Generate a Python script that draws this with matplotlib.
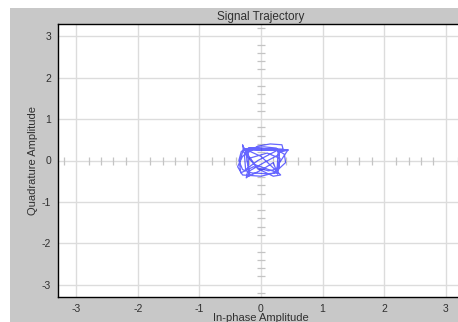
import numpy as np
import matplotlib
matplotlib.use("Agg")
import matplotlib.pyplot as plt
from matplotlib.patches import Rectangle

plt.rcParams['font.family'] = ['Liberation Sans', 'DejaVu Sans']
plt.rcParams['axes.unicode_minus'] = False

# In-phase / quadrature samples of the trajectory
in_phase = [-0.25, 0.44, 0.28, 0.27, 0.26, 0.10, -0.15, -0.30, -0.36, -0.32,
            -0.20, 0.05, 0.25, 0.30, 0.05, -0.22, -0.24, -0.18, -0.23, -0.24,
            0.00, 0.25, 0.32, 0.20, -0.05, -0.28, -0.30, -0.27, 0.10, 0.36,
            0.34, 0.15, -0.05, -0.30, -0.38, -0.30, 0.00, 0.22, 0.40, 0.38,
            0.27, -0.05, -0.25, -0.27, -0.20, 0.44, 0.28, 0.24, -0.10, -0.26,
            -0.28, 0.42, 0.30, 0.29, 0.12, -0.12, -0.33, -0.35, -0.28, -0.21,
            -0.20, 0.02, 0.20, 0.27, 0.31, 0.10, -0.20, -0.26, 0.40]
quadrature = [0.27, 0.25, 0.25, 0.00, -0.30, -0.32, -0.30, -0.22, 0.00, 0.22,
              0.30, 0.33, 0.30, 0.15, -0.05, -0.28, -0.42, -0.35, 0.00, 0.26,
              0.10, -0.25, -0.35, -0.38, -0.20, 0.20, 0.38, 0.28, 0.28, 0.27,
              0.38, 0.40, 0.35, 0.10, -0.15, -0.35, -0.38, -0.30, -0.05, 0.15,
              0.25, 0.00, -0.22, 0.15, 0.30, 0.26, -0.10, -0.28, -0.10, 0.24,
              0.26, 0.25, 0.20, -0.20, -0.25, -0.15, -0.30, -0.05, 0.30, 0.20,
              -0.38, -0.22, -0.05, -0.33, 0.05, 0.18, 0.05, 0.27, 0.24]

axis_limit = 3.3
major_ticks = [-3, -2, -1, 0, 1, 2, 3]

W, H, DPI = 458, 322, 100
fig = plt.figure(figsize=(W / DPI, H / DPI), dpi=DPI, facecolor='white')

# grey panel behind the plot
fig.patches.append(Rectangle((10 / W, 0), 1 - 10 / W, (H - 8) / H,
                             transform=fig.transFigure, facecolor='#c8c8c8',
                             edgecolor='none', zorder=-10))

ax = fig.add_axes([58 / W, 25 / H, (464 - 58) / W, (297 - 24) / H])
ax.set_zorder(1)
ax.set_facecolor('white')
ax.set_xlim(-axis_limit, axis_limit)
ax.set_ylim(-axis_limit, axis_limit)
ax.set_xticks(major_ticks)
ax.set_yticks(major_ticks)
ax.grid(True, color='#dcdcdc', linewidth=1.0)
ax.set_axisbelow(True)
ax.tick_params(length=0, labelsize=7.5, labelcolor='#303030', pad=5)
for s in ax.spines.values():
    s.set_color('black')
    s.set_linewidth(1.0)

# small ticks along the centre cross
minor = np.round(np.arange(-3.2, 3.21, 0.2), 2)
minor = minor[np.abs(minor - np.round(minor)) > 1e-6]
ax.plot(minor, np.zeros_like(minor), linestyle='none', marker='|',
        markersize=6, color='#c4c4c4', markeredgewidth=0.9, zorder=1)
ax.plot(np.zeros_like(minor), minor, linestyle='none', marker='_',
        markersize=6, color='#c4c4c4', markeredgewidth=0.9, zorder=1)

ax.plot(in_phase, quadrature, color='#0000ff', alpha=0.6, linewidth=0.9,
        zorder=3)

ax.set_title('Signal Trajectory', fontsize=8.5, color='#303030', pad=3)
ax.set_xlabel('In-phase Amplitude', fontsize=8, color='#303030', labelpad=-1)
ax.set_ylabel('Quadrature Amplitude', fontsize=8, color='#303030', labelpad=3)

fig.savefig('out.png', dpi=DPI, facecolor='white')
